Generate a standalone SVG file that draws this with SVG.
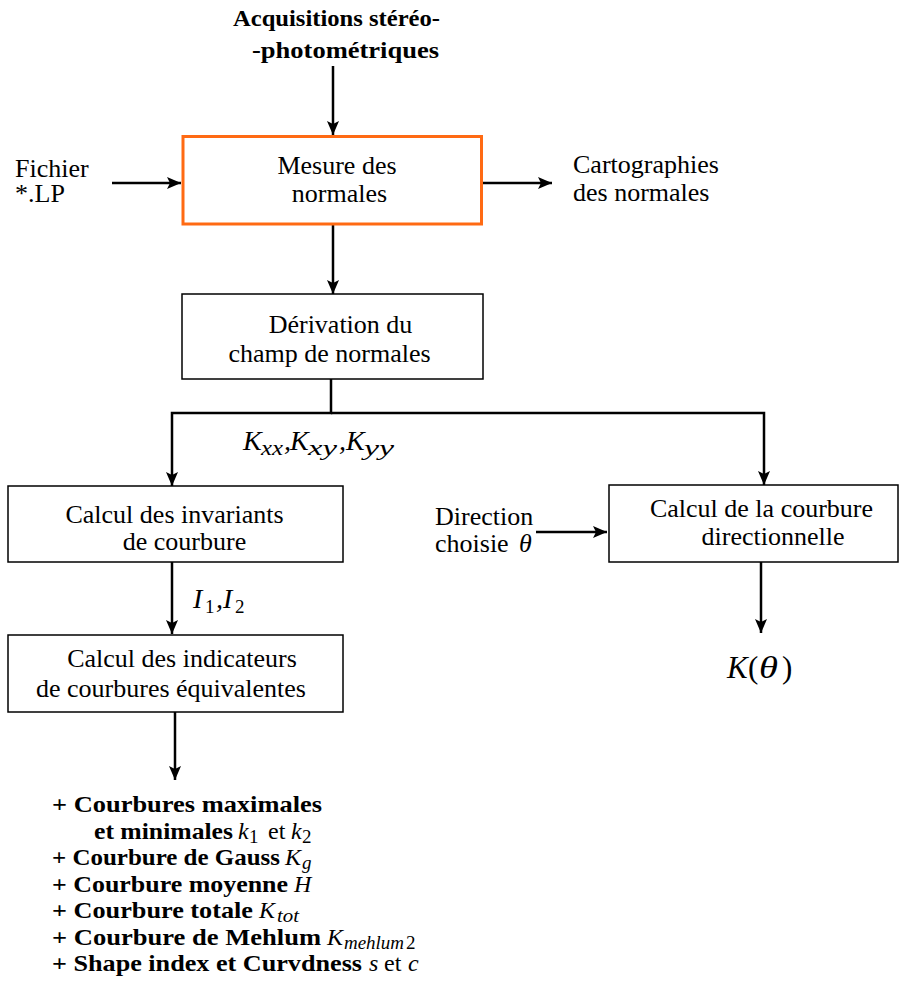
<svg xmlns="http://www.w3.org/2000/svg" width="899" height="982" viewBox="0 0 899 982">
<style>
text{fill:#000}
.t{font-size:26px}
.b{font-size:24px;font-weight:bold}
.m{font-size:28px;font-style:italic}
.s{font-size:22px;font-style:italic}
.sr{font-size:19px;font-style:normal}
.box{fill:#fff;stroke:#000;stroke-width:1.5}
.obox{fill:#fff;stroke:#ff6a13;stroke-width:3}
.ln{fill:none;stroke:#000;stroke-width:2.5}
</style>
<defs>
<marker id="ah" viewBox="0 0 14 12" refX="14" refY="6" markerWidth="14" markerHeight="12" markerUnits="userSpaceOnUse" orient="auto">
<path d="M0,0 L14,6 L0,12 L3,6 Z" fill="#000"/>
</marker>
</defs>
<g id="connectors">
<line class="ln" x1="333" y1="66" x2="333" y2="135" marker-end="url(#ah)"/>
<line class="ln" x1="112" y1="183" x2="181" y2="183" marker-end="url(#ah)"/>
<line class="ln" x1="483" y1="183" x2="552" y2="183" marker-end="url(#ah)"/>
<line class="ln" x1="333" y1="225" x2="333" y2="294" marker-end="url(#ah)"/>
<polyline class="ln" points="331,379 331,413 172,413 172,486" marker-end="url(#ah)"/>
<polyline class="ln" points="331,413 764,413 764,485" marker-end="url(#ah)"/>
<line class="ln" x1="536" y1="532" x2="607" y2="532" marker-end="url(#ah)"/>
<line class="ln" x1="172" y1="562" x2="172" y2="634" marker-end="url(#ah)"/>
<line class="ln" x1="175" y1="712" x2="175" y2="780" marker-end="url(#ah)"/>
<line class="ln" x1="761" y1="562" x2="761" y2="633" marker-end="url(#ah)"/>
</g>
<g id="acquisitions" font-family="Liberation Serif">
<text font-family="Liberation Serif" class="b" x="233" y="26" textLength="207" lengthAdjust="spacingAndGlyphs">Acquisitions stéréo-</text>
<text font-family="Liberation Serif" class="b" x="252" y="58" textLength="187" lengthAdjust="spacingAndGlyphs">-photométriques</text>
</g>
<g id="fichier" font-family="Liberation Serif">
<text font-family="Liberation Serif" class="t" x="15" y="177">Fichier</text>
<text font-family="Liberation Serif" class="t" x="15" y="202">*.LP</text>
</g>
<g id="mesure" font-family="Liberation Serif">
<rect class="obox" x="183" y="136.5" width="298.5" height="87.5"/>
<text font-family="Liberation Serif" class="t" x="337" y="174" text-anchor="middle">Mesure des</text>
<text font-family="Liberation Serif" class="t" x="339.5" y="202" text-anchor="middle">normales</text>
</g>
<g id="cartographies" font-family="Liberation Serif">
<text font-family="Liberation Serif" class="t" x="573" y="173">Cartographies</text>
<text font-family="Liberation Serif" class="t" x="573" y="201">des normales</text>
</g>
<g id="derivation" font-family="Liberation Serif">
<rect class="box" x="182" y="294" width="301" height="85"/>
<text font-family="Liberation Serif" class="t" x="340.5" y="333" text-anchor="middle">Dérivation du</text>
<text font-family="Liberation Serif" class="t" x="329.5" y="362" text-anchor="middle">champ de normales</text>
</g>
<g id="kxx" font-family="Liberation Serif">
<text font-family="Liberation Serif" class="m" x="243" y="450">K</text>
<text font-family="Liberation Serif" class="s" x="261" y="455" textLength="22" lengthAdjust="spacingAndGlyphs">xx</text>
<text font-family="Liberation Serif" class="m" x="284" y="450" font-style="normal">,</text>
<text font-family="Liberation Serif" class="m" x="290" y="450">K</text>
<text font-family="Liberation Serif" class="s" x="308" y="455" textLength="29" lengthAdjust="spacingAndGlyphs">xy</text>
<text font-family="Liberation Serif" class="m" x="339" y="450" font-style="normal">,</text>
<text font-family="Liberation Serif" class="m" x="346" y="450">K</text>
<text font-family="Liberation Serif" class="s" x="364" y="455" textLength="30" lengthAdjust="spacingAndGlyphs">yy</text>
</g>
<g id="invariants" font-family="Liberation Serif">
<rect class="box" x="8" y="486" width="335" height="76"/>
<text font-family="Liberation Serif" class="t" x="174.5" y="523" text-anchor="middle">Calcul des invariants</text>
<text font-family="Liberation Serif" class="t" x="184.5" y="550" text-anchor="middle">de courbure</text>
</g>
<g id="i1i2" font-family="Liberation Serif">
<text font-family="Liberation Serif" class="m" x="193" y="608">I</text>
<text font-family="Liberation Serif" class="sr" x="205" y="613">1</text>
<text font-family="Liberation Serif" class="m" x="216" y="608" font-style="normal">,</text>
<text font-family="Liberation Serif" class="m" x="223" y="608">I</text>
<text font-family="Liberation Serif" class="sr" x="235" y="613">2</text>
</g>
<g id="indicateurs" font-family="Liberation Serif">
<rect class="box" x="8" y="635" width="335" height="77"/>
<text font-family="Liberation Serif" class="t" x="182" y="667" text-anchor="middle">Calcul des indicateurs</text>
<text font-family="Liberation Serif" class="t" x="171" y="697" text-anchor="middle">de courbures équivalentes</text>
</g>
<g id="direction" font-family="Liberation Serif">
<text font-family="Liberation Serif" class="t" x="435" y="525">Direction</text>
<text font-family="Liberation Serif" class="t" x="435" y="552">choisie</text>
<text font-family="Liberation Serif" class="t" x="519" y="552" font-style="italic">θ</text>
</g>
<g id="directionnelle" font-family="Liberation Serif">
<rect class="box" x="609" y="485" width="289" height="77"/>
<text font-family="Liberation Serif" class="t" x="761.5" y="517" text-anchor="middle">Calcul de la courbure</text>
<text font-family="Liberation Serif" class="t" x="773" y="545" text-anchor="middle">directionnelle</text>
</g>
<g id="ktheta" font-family="Liberation Serif">
<text font-family="Liberation Serif" x="727" y="678" font-size="31" font-style="italic">K</text>
<text font-family="Liberation Serif" x="748" y="678" font-size="31">(</text>
<text font-family="Liberation Serif" x="759" y="678" font-size="31" font-style="italic" textLength="19" lengthAdjust="spacingAndGlyphs">θ</text>
<text font-family="Liberation Serif" x="782" y="678" font-size="31">)</text>
</g>
<g id="liste" font-family="Liberation Serif">
<text font-family="Liberation Serif" class="b" x="52" y="812" textLength="270" lengthAdjust="spacingAndGlyphs">+ Courbures maximales</text>
<text font-family="Liberation Serif" class="b" x="94" y="839" textLength="139" lengthAdjust="spacingAndGlyphs">et minimales</text>
<text font-family="Liberation Serif" x="238" y="839" font-size="24" font-style="italic">k</text>
<text font-family="Liberation Serif" x="249" y="843" font-size="19">1</text>
<text font-family="Liberation Serif" x="268" y="839" font-size="24">et</text>
<text font-family="Liberation Serif" x="291" y="839" font-size="24" font-style="italic">k</text>
<text font-family="Liberation Serif" x="302" y="843" font-size="19">2</text>
<text font-family="Liberation Serif" class="b" x="52" y="865" textLength="228" lengthAdjust="spacingAndGlyphs">+ Courbure de Gauss</text>
<text font-family="Liberation Serif" x="285" y="865" font-size="24" font-style="italic">K</text>
<text font-family="Liberation Serif" x="302" y="869" font-size="19" font-style="italic">g</text>
<text font-family="Liberation Serif" class="b" x="52" y="892" textLength="236" lengthAdjust="spacingAndGlyphs">+ Courbure moyenne</text>
<text font-family="Liberation Serif" x="294" y="892" font-size="24" font-style="italic">H</text>
<text font-family="Liberation Serif" class="b" x="52" y="918" textLength="201" lengthAdjust="spacingAndGlyphs">+ Courbure totale</text>
<text font-family="Liberation Serif" x="259" y="918" font-size="24" font-style="italic">K</text>
<text font-family="Liberation Serif" x="277" y="922" font-size="19" font-style="italic" textLength="22" lengthAdjust="spacingAndGlyphs">tot</text>
<text font-family="Liberation Serif" class="b" x="52" y="945" textLength="269" lengthAdjust="spacingAndGlyphs">+ Courbure de Mehlum</text>
<text font-family="Liberation Serif" x="327" y="945" font-size="24" font-style="italic">K</text>
<text font-family="Liberation Serif" x="344" y="949" font-size="19" font-style="italic" textLength="60" lengthAdjust="spacingAndGlyphs">mehlum</text>
<text font-family="Liberation Serif" x="406" y="949" font-size="19">2</text>
<text font-family="Liberation Serif" class="b" x="52" y="971" textLength="310" lengthAdjust="spacingAndGlyphs">+ Shape index et Curvdness</text>
<text font-family="Liberation Serif" x="369" y="971" font-size="24" font-style="italic">s</text>
<text font-family="Liberation Serif" x="384" y="971" font-size="24">et</text>
<text font-family="Liberation Serif" x="408" y="971" font-size="24" font-style="italic">c</text>
</g>
</svg>
